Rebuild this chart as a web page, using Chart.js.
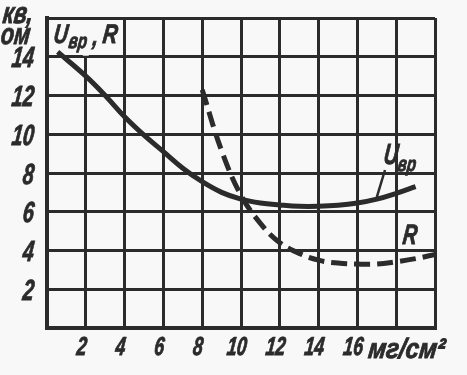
<!DOCTYPE html>
<html>
<head>
<meta charset="utf-8">
<script src="https://cdn.jsdelivr.net/npm/chart.js@4.4.1/dist/chart.umd.min.js"></script>
<style>
  html, body { margin: 0; padding: 0; background: #f8f8f8; }
  canvas { display: block; }
</style>
</head>
<body>
<canvas id="chart" width="467" height="375"></canvas>
<script>
// U_вр, кв (solid)
const uX = [0.55, 2, 3, 4, 5, 6, 7, 8, 9, 10, 11, 12, 13, 14, 15, 16, 17, 18, 19];
const uY = [14.25, 13.0, 12.0, 10.9, 9.95, 9.1, 8.25, 7.55, 7.0, 6.65, 6.45, 6.35, 6.28, 6.28, 6.33, 6.45, 6.65, 6.95, 7.3];
// R, ом (dashed)
const rX = [8, 9, 10, 11, 12, 13, 14, 15, 16, 17, 18, 19, 20];
const rY = [12.3, 9.15, 6.85, 5.4, 4.4, 3.85, 3.5, 3.35, 3.3, 3.3, 3.42, 3.58, 3.8];

const xTicks = [2, 4, 6, 8, 10, 12, 14, 16];
const yTicks = [2, 4, 6, 8, 10, 12, 14];
const xUnit = "мг/см²";
const yUnit = ["кв,", "ом"];

const ink = "#2b2b2b";
const bg = "#f8f8f8";
const fam = "'Liberation Sans', sans-serif";

function pts(xs, ys) {
  return xs.map((x, i) => ({ x: x, y: ys[i] }));
}

// narrow, slanted drafting-style lettering
function txt(ctx, s, x, y, size, align, sx) {
  ctx.save();
  ctx.translate(x, y);
  ctx.transform(sx || 0.7, 0, -0.12, 1, 0, 0);
  ctx.font = "italic bold " + size + "px " + fam;
  ctx.textAlign = align || "left";
  ctx.textBaseline = "alphabetic";
  ctx.fillStyle = ink;
  ctx.strokeStyle = ink;
  ctx.lineWidth = 0.9;
  ctx.fillText(s, 0, 0);
  ctx.strokeText(s, 0, 0);
  ctx.restore();
}

const decor = {
  id: "decor",
  beforeDatasetsDraw(chart) {
    const ctx = chart.ctx;
    const xs = chart.scales.x, ys = chart.scales.y;
    // label cell in the top-left corner has no inner vertical line
    const gx = xs.getPixelForValue(2);
    ctx.save();
    ctx.fillStyle = bg;
    ctx.fillRect(gx - 3, ys.getPixelForValue(16) + 2, 6, ys.getPixelForValue(14) - ys.getPixelForValue(16) - 3);
    ctx.restore();
  },
  afterDraw(chart) {
    const ctx = chart.ctx;
    const xs = chart.scales.x, ys = chart.scales.y;
    const px = v => xs.getPixelForValue(v);
    const py = v => ys.getPixelForValue(v);

    // tick labels
    yTicks.forEach(v => txt(ctx, String(v), 33, py(v) + 10.5, 29, "right", 0.68));
    xTicks.forEach(v => txt(ctx, String(v), px(v) - 5, 355, 26, "center", 0.68));

    // axis units
    txt(ctx, yUnit[0], 2, 23, 30, "left", 0.72);
    txt(ctx, yUnit[1], 0, 44, 30, "left", 0.72);
    txt(ctx, xUnit, px(16) + 10, 358, 28, "left", 0.86);

    // title inside the top-left cell
    txt(ctx, "U", 53, 43, 27, "left", 0.72);
    txt(ctx, "вр", 68, 48, 21, "left", 0.72);
    txt(ctx, ",", 92, 45, 26, "left", 0.75);
    txt(ctx, "R", 102, 43, 27, "left", 0.75);

    // curve labels
    txt(ctx, "U", 383, 164, 29, "left", 0.68);
    txt(ctx, "вр", 397, 171, 21, "left", 0.72);
    txt(ctx, "R", 402, 244, 28, "left", 0.7);

    ctx.save();
    ctx.strokeStyle = ink;
    ctx.lineWidth = 2.5;
    ctx.beginPath();
    ctx.moveTo(385, 170);
    ctx.lineTo(px(17), py(6.75));
    ctx.stroke();
    ctx.restore();
  }
};

new Chart(document.getElementById("chart"), {
  type: "line",
  data: {
    datasets: [
      {
        label: "Uвр",
        data: pts(uX, uY),
        borderColor: ink,
        borderWidth: 5,
        pointRadius: 0,
        tension: 0.4,
        fill: false
      },
      {
        label: "R",
        data: pts(rX, rY),
        borderColor: ink,
        borderWidth: 5,
        borderDash: [16, 7],
        pointRadius: 0,
        tension: 0.4,
        fill: false
      }
    ]
  },
  options: {
    responsive: false,
    animation: false,
    events: [],
    layout: { padding: { left: 0, top: 18, right: 32, bottom: 0 } },
    plugins: { legend: { display: false }, tooltip: { enabled: false } },
    scales: {
      x: {
        type: "linear",
        min: 0,
        max: 20,
        afterFit: s => { s.height = 47; },
        afterBuildTicks: s => { s.ticks = [0, 2, 4, 6, 8, 10, 12, 14, 16, 18, 20].map(v => ({ value: v })); },
        grid: { color: ink, lineWidth: 3, drawTicks: false },
        border: { color: ink, width: 4 },
        ticks: { display: false }
      },
      y: {
        type: "linear",
        min: 0,
        max: 16,
        afterFit: s => { s.width = 47; },
        afterBuildTicks: s => { s.ticks = [0, 2, 4, 6, 8, 10, 12, 14, 16].map(v => ({ value: v })); },
        grid: { color: ink, lineWidth: 3, drawTicks: false },
        border: { color: ink, width: 4 },
        ticks: { display: false }
      }
    }
  },
  plugins: [decor]
});
</script>
</body>
</html>
